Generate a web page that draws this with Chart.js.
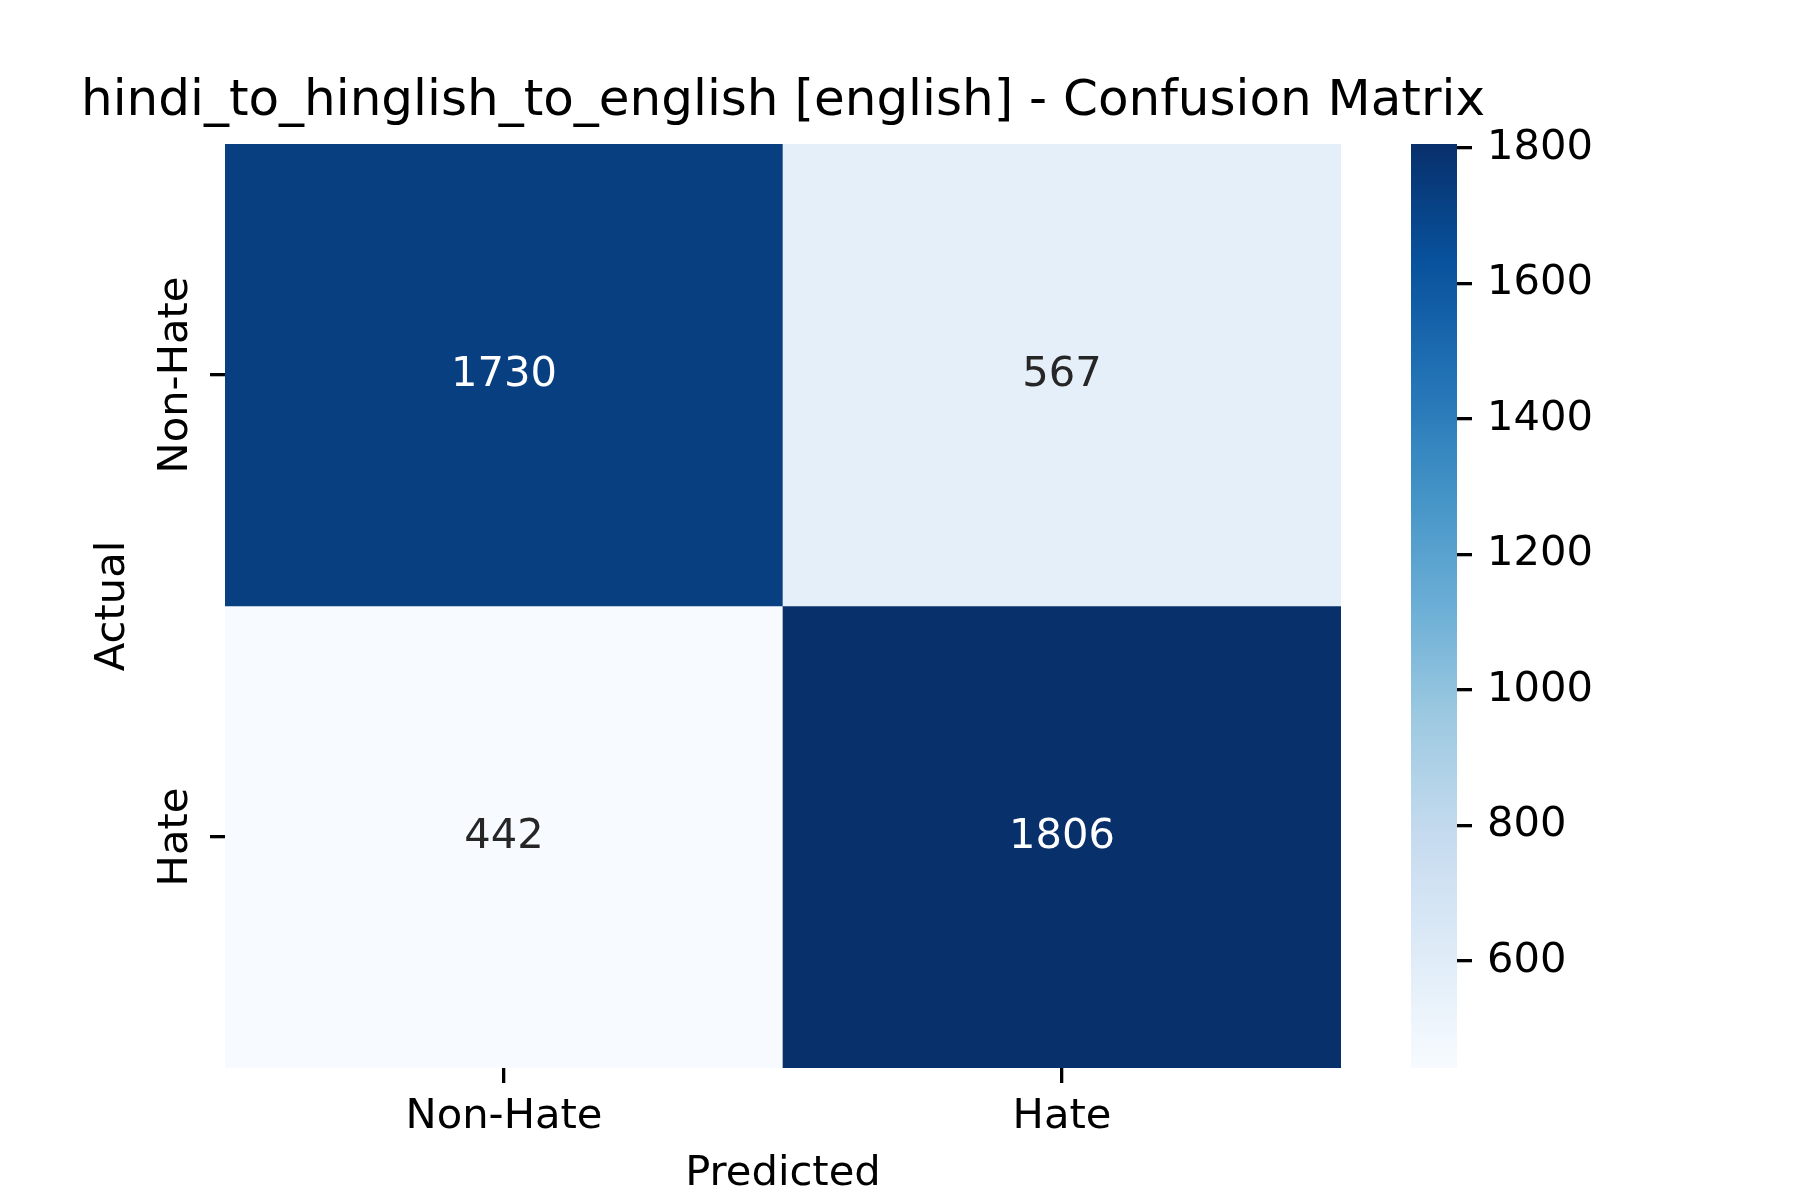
<!DOCTYPE html>
<html>
<head>
<meta charset="utf-8">
<script src="https://cdn.jsdelivr.net/npm/chart.js@4"></script>
<style>
  body { margin: 0; background: #fff; }
  #wrap { position: relative; width: 1800px; height: 1200px; }
  #wrap canvas { position: absolute; left: 0; top: 0; }
</style>
</head>
<body>
<div id="wrap">
  <canvas id="matrix" width="1800" height="1200"></canvas>
  <canvas id="colorbar" width="1800" height="1200"></canvas>
</div>
<script>
// Confusion matrix values (rows = actual, columns = predicted)
const categories = ['Non-Hate', 'Hate']
const rowNonHate = [1730, 567]
const rowHate = [442, 1806]
const colorbarTicks = [600, 800, 1000, 1200, 1400, 1600, 1800]

const rows = [rowNonHate, rowHate]
const allValues = rows.flat()
const vmin = Math.min(...allValues)
const vmax = Math.max(...allValues)

// matplotlib "Blues"
const bluesStops = ['#f7fbff', '#deebf7', '#c6dbef', '#9ecae1', '#6baed6', '#4292c6', '#2171b5', '#08519c', '#08306b']
  .map(h => [1, 3, 5].map(i => parseInt(h.substr(i, 2), 16)))

function blues(t) {
  t = Math.max(0, Math.min(1, t))
  const pos = t * (bluesStops.length - 1)
  const i = Math.min(Math.floor(pos), bluesStops.length - 2)
  const f = pos - i
  return bluesStops[i].map((c, k) => c + (bluesStops[i + 1][k] - c) * f)
}

function rgb(c) {
  return 'rgb(' + c.map(Math.round).join(',') + ')'
}

function norm(v) {
  return (v - vmin) / (vmax - vmin)
}

// same rule seaborn uses to pick annotation colour
function textColorFor(c) {
  const lin = c.map(x => {
    x = x / 255
    return x <= 0.03928 ? x / 12.92 : Math.pow((x + 0.055) / 1.055, 2.4)
  })
  const lum = 0.2126 * lin[0] + 0.7152 * lin[1] + 0.0722 * lin[2]
  return lum > 0.408 ? '#262626' : '#ffffff'
}

const FONT = 'DejaVu Sans'
const tickFont = {family: FONT, size: 41.67}
Chart.defaults.color = '#000'

const annotatePlugin = {
  id: 'annotate',
  afterDatasetsDraw(chart) {
    const {ctx, scales: {x, y}} = chart
    ctx.save()
    ctx.font = '41.67px "' + FONT + '"'
    ctx.textAlign = 'center'
    ctx.textBaseline = 'middle'
    rows.forEach((row, r) => {
      row.forEach((v, c) => {
        ctx.fillStyle = textColorFor(blues(norm(v)))
        ctx.fillText(String(v), x.getPixelForValue(c), y.getPixelForValue(r + 0.5))
      })
    })
    ctx.restore()
  }
}

// vertical y tick labels, centred on each tick
const rowLabelPlugin = {
  id: 'rowLabels',
  afterDraw(chart) {
    const {ctx, scales: {y}} = chart
    ctx.save()
    ctx.font = '41.67px "' + FONT + '"'
    ctx.fillStyle = '#000'
    ctx.textAlign = 'center'
    ctx.textBaseline = 'middle'
    y.ticks.forEach(t => {
      ctx.save()
      ctx.translate(y.right - 49, y.getPixelForValue(t.value))
      ctx.rotate(-Math.PI / 2)
      ctx.fillText(categories[Math.floor(t.value)], 0, 0)
      ctx.restore()
    })
    ctx.restore()
  }
}

const matrixChart = new Chart(document.getElementById('matrix'), {
  type: 'bar',
  data: {
    labels: categories,
    datasets: rows.map((row, r) => ({
      label: categories[r],
      data: row.map(() => [r, r + 1]),
      backgroundColor: row.map(v => rgb(blues(norm(v)))),
      borderWidth: 0,
      barPercentage: 1,
      categoryPercentage: 1,
      grouped: false
    }))
  },
  options: {
    responsive: false,
    devicePixelRatio: 1,
    animation: false,
    layout: {padding: {left: 0, right: 234, top: 0, bottom: 0}},
    plugins: {
      legend: {display: false},
      tooltip: {enabled: false},
      title: {
        display: true,
        text: 'hindi_to_hinglish_to_english [english] - Confusion Matrix',
        color: '#000',
        font: {family: FONT, size: 50, weight: 'normal'},
        padding: {top: 72, bottom: 12}
      }
    },
    scales: {
      x: {
        type: 'category',
        offset: true,
        grid: {offset: false, drawOnChartArea: false, drawTicks: true, tickLength: 15, lineWidth: 3.3, tickWidth: 3.3, tickColor: '#000'},
        border: {display: false},
        ticks: {font: tickFont, color: '#000', padding: 9},
        title: {display: true, text: 'Predicted', color: '#000', font: tickFont, padding: {top: 0, bottom: 1}},
        afterFit: s => { s.height = 132 }
      },
      y: {
        type: 'linear',
        reverse: true,
        min: 0,
        max: categories.length,
        afterBuildTicks: s => { s.ticks = categories.map((c, i) => ({value: i + 0.5})) },
        grid: {drawOnChartArea: false, drawTicks: true, tickLength: 15, lineWidth: 3.3, tickWidth: 3.3, tickColor: '#000'},
        border: {display: false},
        ticks: {display: false},
        title: {display: true, text: 'Actual', color: '#000', font: tickFont, padding: {top: 88, bottom: 0}},
        afterFit: s => { s.width = 225 }
      },
      // empty right-hand gutter so the full-width title centres over the cells
      gutter: {
        type: 'linear',
        position: 'right',
        grid: {display: false},
        border: {display: false},
        ticks: {display: false},
        afterFit: s => { s.width = 225 }
      }
    }
  },
  plugins: [annotatePlugin, rowLabelPlugin]
})

function colorbarGradient(context) {
  const {ctx, chartArea} = context.chart
  if (!chartArea) return rgb(blues(0.5))
  const g = ctx.createLinearGradient(0, chartArea.bottom, 0, chartArea.top)
  const n = 64
  for (let i = 0; i <= n; i++) {
    g.addColorStop(i / n, rgb(blues(i / n)))
  }
  return g
}

const colorbarChart = new Chart(document.getElementById('colorbar'), {
  type: 'bar',
  data: {
    labels: ['scale'],
    datasets: [{
      data: [[vmin, vmax]],
      backgroundColor: colorbarGradient,
      borderWidth: 0,
      barPercentage: 1,
      categoryPercentage: 1
    }]
  },
  options: {
    responsive: false,
    devicePixelRatio: 1,
    animation: false,
    layout: {padding: {left: 1411, right: 0, top: 144, bottom: 132}},
    plugins: {legend: {display: false}, tooltip: {enabled: false}},
    scales: {
      x: {display: false},
      y: {
        position: 'right',
        min: vmin,
        max: vmax,
        afterBuildTicks: s => { s.ticks = colorbarTicks.map(v => ({value: v})) },
        grid: {drawOnChartArea: false, drawTicks: true, tickLength: 15, lineWidth: 3.3, tickWidth: 3.3, tickColor: '#000'},
        border: {display: false},
        ticks: {font: tickFont, color: '#000', padding: 15, callback: v => String(v)},
        afterFit: s => { s.width = 343 }
      }
    }
  }
})
</script>
</body>
</html>
